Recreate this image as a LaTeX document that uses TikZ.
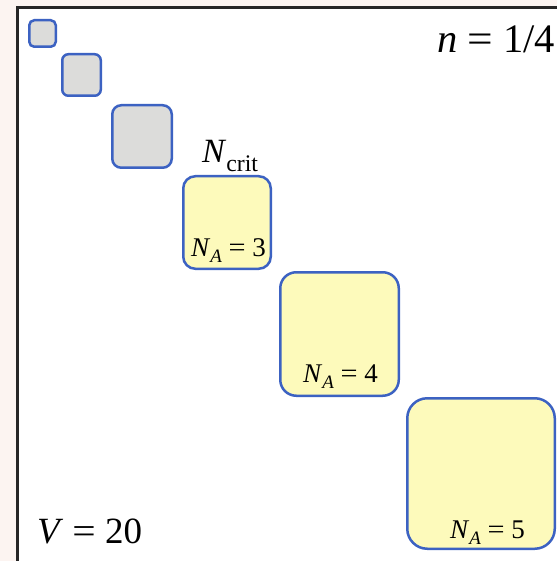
\documentclass[tikz,border=0pt]{standalone}
\usepackage{fontspec}
\setmainfont{Liberation Serif}
\usepackage{graphicx}
\definecolor{bluebord}{HTML}{3C62C2}
\definecolor{grayfill}{HTML}{DCDCDA}
\definecolor{yelfill}{HTML}{FDFABB}
\definecolor{pinkbg}{HTML}{FCF4F1}
\newcommand\lsub[1]{\raisebox{-0.25em}{\scalebox{0.7}{#1}}}
\newcommand\eqsp{\hspace{0.25em}\scalebox{1.12}[1]{=}\hspace{0.25em}}
\begin{document}
\begin{tikzpicture}[x=1pt,y=-1pt,
  cell/.style={draw=bluebord, line width=2.5pt, inner sep=0pt, outer sep=0pt},
  smallcell/.style={cell, fill=grayfill},
  bigcell/.style={cell, fill=yelfill},
  lab/.style={anchor=base west, inner sep=0pt, outer sep=0pt}]
\useasboundingbox (0,0) rectangle (557,561);
\fill[pinkbg] (0,0) rectangle (557,561);
\fill[white] (17.5,7.5) rectangle (557,561);
\draw[line width=2.8pt, black!85] (17.5,561) -- (17.5,7.5) -- (557,7.5);

\node[smallcell, minimum width=26.5pt, minimum height=26.5pt, rounded corners=5pt] (b1) at (42.5,33.5) {};
\node[smallcell, minimum width=38.5pt, minimum height=41.5pt, rounded corners=6pt] (b2) at (81.5,75) {};
\node[smallcell, minimum width=59.5pt, minimum height=62.5pt, rounded corners=9pt] (b3) at (142,136.5) {};
\node[bigcell, minimum width=87.5pt, minimum height=92.5pt, rounded corners=12pt] (b4) at (227,222.5) {};
\node[bigcell, minimum width=118.5pt, minimum height=123.5pt, rounded corners=16pt] (b5) at (339.5,334) {};
\node[bigcell, minimum width=147.5pt, minimum height=150.5pt, rounded corners=20pt] (b6) at (481,473.5) {};

\node[lab, font=\fontsize{34}{36}\selectfont] (ncrit) at (202,163) {\textit{N}\lsub{crit}};
\node[lab, font=\fontsize{27}{30}\selectfont] (na3) at (191,256) {\textit{N}\lsub{\textit{A}}\eqsp 3};
\node[lab, font=\fontsize{27}{30}\selectfont] (na4) at (303,382) {\textit{N}\lsub{\textit{A}}\eqsp 4};
\node[lab, font=\fontsize{27}{30}\selectfont] (na5) at (450,538) {\textit{N}\lsub{\textit{A}}\eqsp 5};
\node[lab, font=\fontsize{37}{40}\selectfont] (vol) at (37,543) {\textit{V}\eqsp 20};
\node[lab, font=\fontsize{40.5}{43}\selectfont] (nval) at (437,53) {\textit{n}\eqsp 1/4};
\end{tikzpicture}
\end{document}
